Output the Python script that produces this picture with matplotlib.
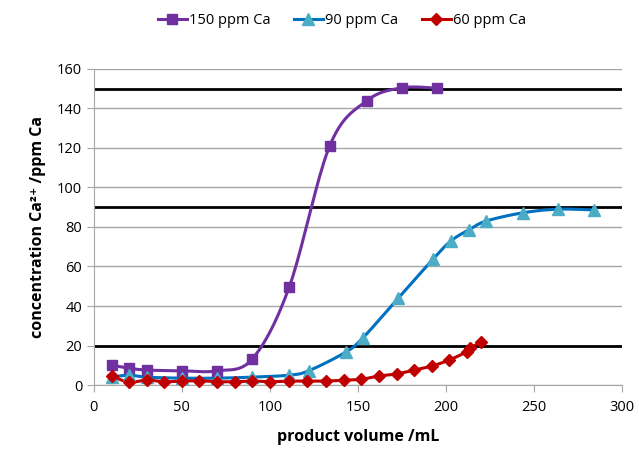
import numpy as np
import matplotlib
matplotlib.use("Agg")
import matplotlib.pyplot as plt

# ---- data ----
x150 = [10, 20, 30, 50, 70, 90, 111, 134, 155, 175, 195]
y150 = [10, 8.5, 7.6, 7.2, 7.2, 13.2, 49.6, 121, 143.8, 150.4, 150.2]

x90 = [10, 20, 30, 50, 70, 90, 111, 122, 143, 153, 173, 193, 203, 213, 223, 244, 264, 284]
y90 = [4, 5, 4, 3.5, 3.5, 4, 5, 7.2, 16.6, 24, 44, 64, 73, 78.5, 83, 87.2, 89, 88.6]

x60 = [10, 20, 30, 40, 50, 60, 70, 80, 90, 100, 111, 121, 132, 142, 152, 162, 172, 182, 192, 202, 212, 214, 220]
y60 = [4.5, 1.5, 2.5, 1.7, 2, 2.2, 1.7, 1.7, 2, 1.7, 2, 2, 2, 2.5, 2.9, 4.6, 5.6, 7.6, 9.6, 12.7, 16.9, 18.9, 21.6]

ref_levels = [20, 90, 150]
xticks = [0, 50, 100, 150, 200, 250, 300]
yticks = [0, 20, 40, 60, 80, 100, 120, 140, 160]


def smooth(xs, ys, n=20):
    """Catmull-Rom rendering (like Excel's smoothed line)."""
    p = np.column_stack([xs, ys]).astype(float)
    p = np.vstack([p[0], p, p[-1]])
    out = []
    t = np.linspace(0, 1, n, endpoint=False)[:, None]
    for i in range(1, len(p) - 2):
        p0, p1, p2, p3 = p[i - 1], p[i], p[i + 1], p[i + 2]
        c = 0.5 * ((2 * p1) + (-p0 + p2) * t + (2 * p0 - 5 * p1 + 4 * p2 - p3) * t ** 2
                   + (-p0 + 3 * p1 - 3 * p2 + p3) * t ** 3)
        out.append(c)
    out.append(p[-2][None, :])
    out = np.vstack(out)
    return out[:, 0], out[:, 1]


plt.rcParams['font.family'] = ['Open Sans', 'DejaVu Sans']
fig = plt.figure(figsize=(6.39, 4.53), dpi=100)
ax = fig.add_axes([0.147, 0.150, 0.826, 0.698])

ax.set_xlim(0, 300)
ax.set_ylim(0, 160)
ax.set_yticks(yticks)
ax.set_xticks(xticks)
ax.grid(axis='y', color='#a6a6a6', lw=1)
ax.set_axisbelow(True)

for lv in ref_levels:
    ax.axhline(lv, color='black', lw=2, zorder=2)

series = [
    (x150, y150, '#7030A0', '#7030A0', 's', 7, '150 ppm Ca'),
    (x90, y90, '#0070C0', '#4BACC6', '^', 8, '90 ppm Ca'),
    (x60, y60, '#C00000', '#C00000', 'D', 6, '60 ppm Ca'),
]
handles = []
for xs, ys, lc, mc, mk, ms, lab in series:
    sx, sy = smooth(xs, ys)
    ax.plot(sx, sy, color=lc, lw=2.2, zorder=3, clip_on=False)
    ax.plot(xs, ys, ls='none', marker=mk, ms=ms, color=mc, mec=mc, zorder=4, clip_on=False)
    h, = ax.plot([], [], color=lc, lw=2.2, marker=mk, ms=ms, mfc=mc, mec=mc, label=lab)
    handles.append(h)

for s in ['top', 'right']:
    ax.spines[s].set_visible(False)
for s in ['left', 'bottom']:
    ax.spines[s].set_color('#a6a6a6')
ax.tick_params(axis='both', colors='#a6a6a6', labelcolor='black', labelsize=10.5, length=5)
ax.tick_params(axis='x', pad=6)

ax.set_xlabel('product volume /mL', fontsize=11.5, fontweight='bold', labelpad=10)
ax.set_ylabel('concentration Ca²⁺ /ppm Ca', fontsize=11.5, fontweight='bold', labelpad=8)

fig.legend(handles=handles, loc='upper center', bbox_to_anchor=(0.535, 1.0), ncol=3,
           frameon=False, fontsize=10.5, handlelength=2.0, columnspacing=1.6, handletextpad=0.15)

fig.savefig('out.png', dpi=100)
